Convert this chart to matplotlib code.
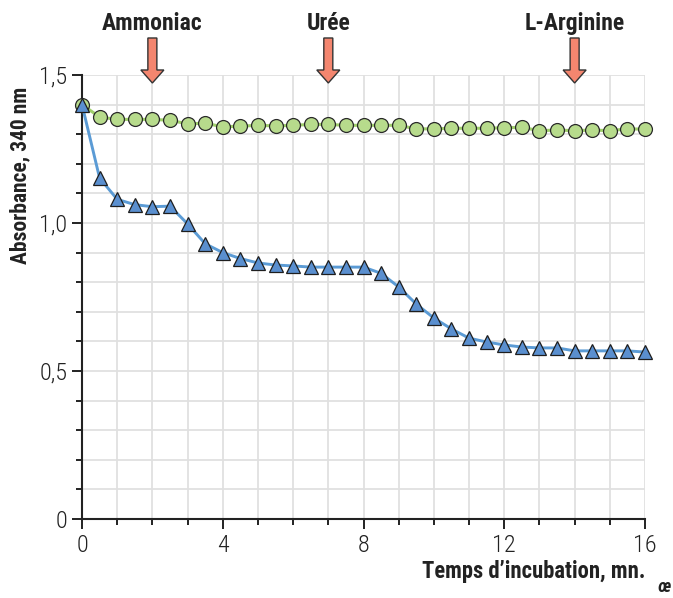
import matplotlib
matplotlib.use("Agg")
import matplotlib.pyplot as plt
from matplotlib.patches import Polygon
from matplotlib.transforms import ScaledTranslation, blended_transform_factory
import numpy as np

# ---------------- data ----------------
time_min = [0, 0.5, 1, 1.5, 2, 2.5, 3, 3.5, 4, 4.5, 5, 5.5, 6, 6.5, 7, 7.5, 8,
            8.5, 9, 9.5, 10, 10.5, 11, 11.5, 12, 12.5, 13, 13.5, 14, 14.5, 15, 15.5, 16]
control = [1.400, 1.358, 1.350, 1.350, 1.350, 1.347, 1.335, 1.337, 1.325, 1.327,
           1.330, 1.328, 1.330, 1.333, 1.333, 1.330, 1.330, 1.330, 1.330, 1.318,
           1.318, 1.320, 1.320, 1.320, 1.322, 1.323, 1.312, 1.314, 1.312, 1.314,
           1.312, 1.318, 1.317]
treated = [1.400, 1.152, 1.080, 1.062, 1.055, 1.057, 0.997, 0.930, 0.900, 0.880,
           0.865, 0.858, 0.855, 0.851, 0.851, 0.851, 0.851, 0.830, 0.784, 0.726,
           0.679, 0.642, 0.611, 0.598, 0.588, 0.581, 0.578, 0.578, 0.568, 0.568,
           0.568, 0.568, 0.564]
x_major = [0, 4, 8, 12, 16]
y_major = [0, 0.5, 1.0, 1.5]
y_labels = ["0", "0,5", "1,0", "1,5"]
arrow_x = [2, 7, 14]
arrow_labels = ["Ammoniac", "Urée", "L-Arginine"]

FONT = ["Roboto Condensed", "DejaVu Sans"]
plt.rcParams["font.family"] = FONT

fig = plt.figure(figsize=(6.73, 5.98), dpi=100)
ax = fig.add_axes([82/673, 79/598, 563/673, 444/598])

ax.set_xlim(0, 16)
ax.set_ylim(0, 1.5)

ax.set_xticks(x_major)
ax.set_xticks(np.arange(0, 17, 1), minor=True)
ax.set_yticks(y_major)
ax.set_yticklabels(y_labels)
ax.set_yticks(np.arange(0, 1.51, 0.1), minor=True)

ax.grid(True, which="both", color="#e0e0e0", lw=1.3, zorder=0)
ax.set_axisbelow(True)

for s in ["top", "right"]:
    ax.spines[s].set_visible(False)
for s in ["left", "bottom"]:
    ax.spines[s].set_color("#222222")
    ax.spines[s].set_linewidth(1.5)

ax.tick_params(which="major", direction="out", length=7.5, width=1.4,
               color="#222222", labelsize=17.5, labelcolor="#222222", pad=3)
ax.tick_params(which="minor", direction="out", length=4, width=1.4, color="#222222")
for lab in ax.get_xticklabels() + ax.get_yticklabels():
    lab.set_fontweight(300)

# series
ax.plot(time_min, control, color="#9fce6c", lw=2.2, zorder=3, clip_on=False,
        marker="o", ms=10, mfc="#b7db8c", mec="#2a2a2a", mew=0.9)
ax.plot(time_min, treated, color="#5b9bd5", lw=2.1, zorder=4, clip_on=False,
        marker="^", ms=10, mfc="#5a8fcf", mec="#1e1e1e", mew=0.9)

ax.set_ylabel("Absorbance, 340 nm", fontsize=15.5, fontweight="bold",
              color="#222222")
ax.yaxis.set_label_coords(-0.09, 0.775)
ax.text(1.0, -0.118, "Temps d’incubation, mn.", transform=ax.transAxes,
        ha="right", va="center", fontsize=16.3, fontweight="bold",
        color="#222222")

# arrows and labels
tip_y = 1.473
px = 1 / 100.0
verts = np.array([(0, 0), (-11.5, 13), (-4.5, 13), (-4.5, 45), (4.5, 45),
                  (4.5, 13), (11.5, 13)]) * px
lab_tr = blended_transform_factory(ax.transData, fig.transFigure)
for xv, lab in zip(arrow_x, arrow_labels):
    tr = fig.dpi_scale_trans + ScaledTranslation(xv, tip_y, ax.transData)
    poly = Polygon(verts, closed=True, transform=tr, facecolor="#f4866f",
                   edgecolor="#333333", lw=1.0, clip_on=False, zorder=6)
    fig.add_artist(poly)
    fig.text(xv, 1 - 30/598, lab, transform=lab_tr, ha="center", va="baseline",
             fontsize=17, fontweight="bold", color="#222222")

fig.text(0.997, 0.004, "œ", ha="right", va="bottom", fontsize=13,
         fontweight="bold", style="italic", color="#222222")

fig.savefig("out.png", dpi=100)
